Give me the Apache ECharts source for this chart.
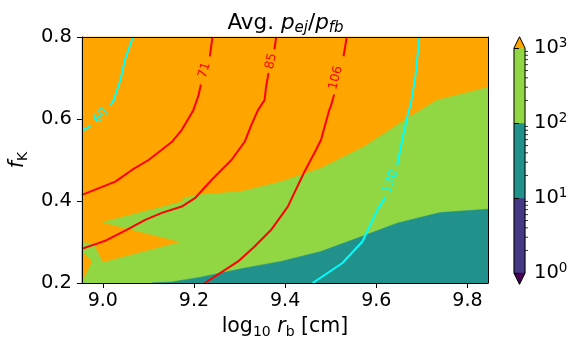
<!DOCTYPE html>
<html><head><meta charset="utf-8">
<script src="https://cdn.jsdelivr.net/npm/echarts@6/dist/echarts.min.js"></script>
<style>html,body{margin:0;padding:0;background:#fff}#c{width:571px;height:347px}</style>
</head><body><div id="c"></div>
<script>
// ---------- axes ----------
const X_MIN = 8.9542, X_MAX = 9.8451;   // log10(9e8) .. log10(7e9)
const Y_MIN = 0.2, Y_MAX = 0.8;
const xTicks = [9.0, 9.2, 9.4, 9.6, 9.8];
const yTicks = [0.2, 0.4, 0.6, 0.8];
const cbarExp = [0, 1, 2, 3];            // colorbar ticks: 10^0 .. 10^3

// ---------- filled regions [log10 r_b, f_K] ----------
const fullRegion = [[X_MIN, Y_MIN], [X_MAX, Y_MIN], [X_MAX, Y_MAX], [X_MIN, Y_MAX]]; // > 10^3 (orange)
const greenRegion = [
  [9.8451, 0.677], [9.7332, 0.646], [9.6678, 0.6015], [9.5724, 0.532], [9.4786, 0.480],
  [9.3913, 0.447], [9.304, 0.423], [9.2123, 0.415], [9.1759, 0.407], [9.1759, 0.3985],
  [9.0, 0.348], [9.1724, 0.300], [9.0, 0.250], [8.9795, 0.2956], [8.9542, 0.299],
  [8.9542, 0.2], [9.8451, 0.2]
];
const orangePocket = [[8.9542, 0.277], [8.976, 0.2526], [8.9542, 0.204]];
const tealRegion = [
  [9.1076, 0.2], [9.1512, 0.2024], [9.2123, 0.2136], [9.304, 0.2348], [9.3913, 0.2526],
  [9.4786, 0.2769], [9.5724, 0.3151], [9.6459, 0.346], [9.7404, 0.3718], [9.8451, 0.380],
  [9.8451, 0.2]
];

// ---------- contour lines ----------
const c60a = [[9.0661, 0.8], [9.0493, 0.7474], [9.0384, 0.6946], [9.024, 0.646], [9.0166, 0.6338]];
const c60b = [[8.9729, 0.5827], [8.9542, 0.5713]];
const c71a = [[9.2407, 0.8], [9.2348, 0.753]];
const c71b = [[9.2152, 0.6842], [9.2095, 0.6557], [9.1986, 0.6216], [9.1861, 0.5973], [9.173, 0.573],
  [9.1512, 0.5438], [9.1004, 0.5], [9.0639, 0.4757], [9.0275, 0.4472], [8.9985, 0.4343], [8.9542, 0.4148]];
const c85a = [[9.3804, 0.8], [9.3766, 0.770]];
const c85b = [[9.3636, 0.7124], [9.3585, 0.68], [9.3548, 0.646], [9.3404, 0.6216], [9.3258, 0.5852],
  [9.3112, 0.5445], [9.2822, 0.5], [9.2385, 0.4513], [9.2021, 0.4068], [9.1731, 0.3864],
  [9.1294, 0.371], [9.093, 0.354], [9.0596, 0.3338], [9.005, 0.3029], [8.9904, 0.2973], [8.9542, 0.2837]];
const c106a = [[9.5353, 0.8], [9.5281, 0.753]];
const c106b = [[9.5076, 0.6599], [9.5004, 0.6314], [9.4967, 0.6216], [9.4786, 0.5487], [9.4676, 0.5243],
  [9.4421, 0.4708], [9.4059, 0.3864], [9.3694, 0.3297], [9.333, 0.2891], [9.2968, 0.2526], [9.2239, 0.2]];
const c130a = [[9.6946, 0.8], [9.6859, 0.7044], [9.675, 0.6314], [9.6713, 0.6216], [9.6568, 0.5487], [9.6459, 0.4878]];
const c130b = [[9.6208, 0.4107], [9.6023, 0.3784], [9.5696, 0.3012], [9.5259, 0.2487], [9.4604, 0.2]];

const labelPos = [[8.9963, 0.6078], [9.2232, 0.719], [9.3694, 0.7409], [9.5113, 0.7002], [9.6317, 0.4472]];
const labelText = ['60', '71', '85', '106', '130'];

// ---------- styles ----------
const RED = '#ff0000', CYAN = '#00ffff';
const labelColor = [CYAN, RED, RED, RED, CYAN];
const labelRot = [50, 72, 76, 76, 70];
const cbarColors = ['#443983', '#21918c', '#90d743'];
const UNDER = '#440154', OVER = '#ffa500';
const FONT = 'DejaVu Sans';

function polySeries(pts, color, z) {
  return {
    type: 'custom', xAxisIndex: 0, yAxisIndex: 0, z: z, silent: true, data: [pts[0]],
    renderItem: (params, api) => ({
      type: 'polygon', shape: { points: pts.map(p => api.coord(p)) },
      style: { fill: color, stroke: color, lineWidth: 0.6 }
    })
  };
}
function lineSeries(pts, color) {
  return {
    type: 'line', xAxisIndex: 0, yAxisIndex: 0, z: 4, data: pts, showSymbol: false, symbol: 'none',
    silent: true, lineStyle: { color: color, width: 2 }
  };
}
function cbPoly(pts, fill, stroke) {
  return {
    type: 'custom', xAxisIndex: 2, yAxisIndex: 2, z: 3, silent: true, clip: false, data: [pts[0]],
    renderItem: (params, api) => ({
      type: 'polygon', shape: { points: pts.map(p => api.coord(p)) },
      style: stroke ? { fill: 'none', stroke: stroke, lineWidth: 1 } : { fill: fill, stroke: fill, lineWidth: 0.5 }
    })
  };
}

const series = [
  polySeries(fullRegion, OVER, 1),
  polySeries(greenRegion, cbarColors[2], 2),
  polySeries(orangePocket, OVER, 2),
  polySeries(tealRegion, cbarColors[1], 3),
  lineSeries(c60a, CYAN), lineSeries(c60b, CYAN),
  lineSeries(c71a, RED), lineSeries(c71b, RED),
  lineSeries(c85a, RED), lineSeries(c85b, RED),
  lineSeries(c106a, RED), lineSeries(c106b, RED),
  lineSeries(c130a, CYAN), lineSeries(c130b, CYAN),
  {
    type: 'custom', xAxisIndex: 0, yAxisIndex: 0, z: 5, silent: true,
    data: labelPos.map((p, i) => [p[0], p[1], i]),
    renderItem: (params, api) => {
      const i = api.value(2);
      const p = api.coord([api.value(0), api.value(1)]);
      return {
        type: 'text', x: p[0], y: p[1], rotation: labelRot[i] * Math.PI / 180,
        style: { text: labelText[i], fill: labelColor[i], font: '12.5px "' + FONT + '"', align: 'center', verticalAlign: 'middle' }
      };
    }
  }
];
// colorbar bands
const cbTop = cbarExp[cbarExp.length - 1], cbBot = cbarExp[0];
const ext = 0.05 * (cbTop - cbBot);
for (let i = 0; i < cbarColors.length; i++) {
  series.push(cbPoly([[0, cbarExp[i]], [1, cbarExp[i]], [1, cbarExp[i + 1]], [0, cbarExp[i + 1]]], cbarColors[i]));
}
series.push(cbPoly([[0, cbTop], [1, cbTop], [0.5, cbTop + ext]], OVER));
series.push(cbPoly([[0, cbBot], [1, cbBot], [0.5, cbBot - ext]], UNDER));
series.push(cbPoly([[0, cbBot], [0.5, cbBot - ext], [1, cbBot], [1, cbTop], [0.5, cbTop + ext], [0, cbTop]], null, '#000'));
// colorbar minor (log) ticks
const minorVals = [];
for (let n = cbBot; n < cbTop; n++) for (let k = 2; k <= 9; k++) minorVals.push(n + Math.log10(k));
series.push({
  type: 'custom', xAxisIndex: 2, yAxisIndex: 2, z: 4, silent: true, clip: false,
  data: minorVals.map(v => [1, v]),
  renderItem: (params, api) => {
    const p = api.coord([api.value(0), api.value(1)]);
    return { type: 'line', shape: { x1: p[0], y1: p[1], x2: p[0] + 3, y2: p[1] }, style: { stroke: '#000', lineWidth: 0.8 } };
  }
});

const txt = { fontFamily: FONT, color: '#000' };
const option = {
  animation: false,
  backgroundColor: '#fff',
  title: {
    text: 'Avg. {i|p}{s|ej}{n|/}{i|p}{s|fb}',
    left: 'center', top: 6,
    textStyle: {
      fontSize: 21.5, fontWeight: 'normal', fontFamily: FONT, color: '#000',
      rich: {
        i: { fontSize: 21.5, fontStyle: 'italic', fontFamily: FONT, color: '#000' },
        n: { fontSize: 21.5, fontFamily: FONT, color: '#000' },
        s: { fontSize: 15, fontStyle: 'italic', fontFamily: FONT, color: '#000', padding: [10, 0, 0, 0] }
      }
    }
  },
  grid: [
    { left: 80, top: 37, width: 408, height: 246 },
    { left: 514, top: 48, width: 11, height: 225 }
  ],
  xAxis: [
    {
      type: 'value', gridIndex: 0, min: X_MIN, max: X_MAX, position: 'bottom', z: 10,
      axisLine: { show: true, lineStyle: { color: '#000', width: 1 } },
      axisTick: { show: true, length: 5, customValues: xTicks, lineStyle: { color: '#000' } },
      axisLabel: { customValues: xTicks, formatter: v => v.toFixed(1), fontSize: 19, margin: 9, ...txt },
      splitLine: { show: false },
      name: '{n|log}{s|10}{n| }{i|r}{b|b}{n| [cm]}', nameLocation: 'middle', nameGap: 32,
      nameTextStyle: {
        ...txt, fontSize: 20,
        rich: {
          n: { fontSize: 20.5, ...txt },
          i: { fontSize: 20.5, fontStyle: 'italic', ...txt },
          s: { fontSize: 14, ...txt, padding: [10, 0, 0, 0] },
          b: { fontSize: 14, ...txt, padding: [10, 0, 0, 0] }
        }
      }
    },
    {
      type: 'value', gridIndex: 0, min: X_MIN, max: X_MAX, position: 'top', z: 10,
      axisLine: { show: true, lineStyle: { color: '#000', width: 1 } },
      axisTick: { show: false }, axisLabel: { show: false }, splitLine: { show: false }
    },
    { type: 'value', gridIndex: 1, min: 0, max: 1, show: false }
  ],
  yAxis: [
    {
      type: 'value', gridIndex: 0, min: Y_MIN, max: Y_MAX, interval: 0.2, position: 'left', z: 10,
      axisLine: { show: true, lineStyle: { color: '#000', width: 1 } },
      axisTick: { show: true, length: 5, lineStyle: { color: '#000' } },
      axisLabel: { formatter: v => v.toFixed(1), fontSize: 19.5, margin: 10, ...txt },
      splitLine: { show: false },
      name: '{i|f}{b|K}', nameLocation: 'middle', nameGap: 50,
      nameTextStyle: {
        ...txt, fontSize: 20,
        rich: {
          i: { fontSize: 20.5, fontStyle: 'italic', ...txt },
          b: { fontSize: 14, ...txt, padding: [10, 0, 0, 0] }
        }
      }
    },
    {
      type: 'value', gridIndex: 0, min: Y_MIN, max: Y_MAX, position: 'right', z: 10,
      axisLine: { show: true, lineStyle: { color: '#000', width: 1 } },
      axisTick: { show: false }, axisLabel: { show: false }, splitLine: { show: false }
    },
    {
      type: 'value', gridIndex: 1, min: cbBot, max: cbTop, interval: 1, position: 'right', z: 10,
      axisLine: { show: false },
      axisTick: { show: true, length: 5, lineStyle: { color: '#000' } },
      axisLabel: {
        formatter: v => '{n|10}{p|' + Math.round(v) + '}', margin: 9, ...txt,
        rich: { n: { fontSize: 19.5, ...txt }, p: { fontSize: 13.5, ...txt, padding: [0, 0, 10, 0] } }
      },
      splitLine: { show: false }
    }
  ],
  series: series
};
const chart = echarts.init(document.getElementById('c'), null, { renderer: 'canvas' });
chart.setOption(option);
</script>
</body></html>
